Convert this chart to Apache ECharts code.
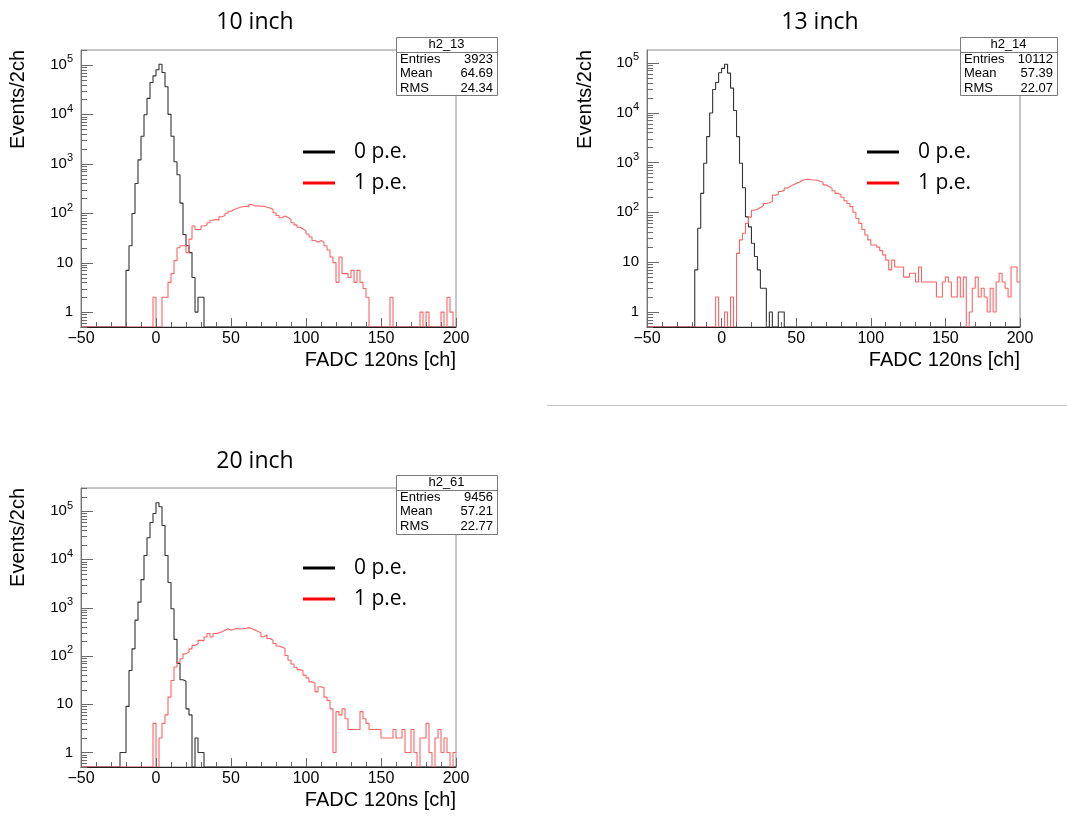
<!DOCTYPE html>
<html><head><meta charset="utf-8">
<script src="https://cdn.jsdelivr.net/npm/echarts@6/dist/echarts.min.js"></script>
<style>html,body{margin:0;padding:0;background:#fff}#c{width:1067px;height:817px}</style>
</head><body><div id="c"></div>
<script>
// ---- data (bins of 2 ch, left edges from -50 to 198) ----
const binStart = -50, binWidth = 2;
const panelTitles = ['10 inch', '13 inch', '20 inch'];
const legendNames = ['0 p.e.', '1 p.e.'];
const xAxisTitle = 'FADC 120ns [ch]';
const yAxisTitle = 'Events/2ch';
const statsNames = ['h2_13', 'h2_14', 'h2_61'];
const statsEntries = ['3923', '10112', '9456'];
const statsMeans = ['64.69', '57.39', '57.21'];
const statsRms = ['24.34', '22.07', '22.77'];
const yTickValues = [1, 10, 100, 1000, 10000, 100000];
const yTickLabels = ['1', '10', '10^2', '10^3', '10^4', '10^5'];
const yMin = 0.5;
const yMax = [2e5, 1.8e5, 3e5];

const black10 = [
  0,0,0,0,0, 0,0,0,0,0, 0,0,0,0,0, 7,22,99,400,1200, 3600,9800,21000,44000,60000,
  80000,103000,70000,36000,10000, 3600,1100,600,160,37, 22,16,5,1,2, 2,0,0,0,0, 0,0,0,0,0,
  0,0,0,0,0, 0,0,0,0,0, 0,0,0,0,0, 0,0,0,0,0, 0,0,0,0,0,
  0,0,0,0,0, 0,0,0,0,0, 0,0,0,0,0, 0,0,0,0,0, 0,0,0,0,0,
  0,0,0,0,0, 0,0,0,0,0, 0,0,0,0,0, 0,0,0,0,0, 0,0,0,0,0
];
const red10 = [
  0,0,0,0,0, 0,0,0,0,0, 0,0,0,0,0, 0,0,0,0,0, 0,0,0,0,2,
  0,0,2,2,4, 6,11,20,22,22, 16,30,55,47,47, 55,58,64,72,75, 72,85,90,100,110,
  119,125,132,135,138, 136,150,140,142,138, 140,132,128,120,102, 90,81,88,82,75, 64,58,52,48,44,
  38,33,28,26,28, 26,22,18,13,10, 4,13,6,6,5, 7,4,7,4,3, 2,0,0,0,0,
  0,0,0,2,0, 0,0,0,0,0, 0,0,0,1,0, 1,0,0,0,0, 1,0,2,1,0
];
const black13 = [
  0,0,0,0,0, 0,0,0,0,0, 0,0,0,0,0, 0,7,48,240,960, 3300,9800,29000,40000,63000,
  77000,93000,62000,31000,11000, 3300,960,310,81,51, 24,13,7,3,3, 0,1,0,0,1, 1,0,0,0,0,
  0,0,0,0,0, 0,0,0,0,0, 0,0,0,0,0, 0,0,0,0,0, 0,0,0,0,0,
  0,0,0,0,0, 0,0,0,0,0, 0,0,0,0,0, 0,0,0,0,0, 0,0,0,0,0,
  0,0,0,0,0, 0,0,0,0,0, 0,0,0,0,0, 0,0,0,0,0, 0,0,0,0,0
];
const red13 = [
  0,0,0,0,0, 0,0,0,0,0, 0,0,0,0,0, 0,0,0,0,0, 0,0,0,2,0,
  0,1,0,2,0, 15,28,38,60,80, 110,115,125,135,150, 155,165,220,230,262, 275,305,330,355,380,
  400,435,455,460,450, 445,440,420,400,355, 330,305,270,240,225, 200,170,150,130,100, 75,60,45,35,28,
  22,22,20,17,14, 11,7,11,8,8, 8,5,5,6,6, 4,8,4,4,4, 4,4,2,2,4,
  5,4,2,2,5, 2,5,0,1,3, 5,2,3,2,1, 3,1,4,6,4, 3,2,8,8,4
];
const black20 = [
  0,0,0,0,0, 0,0,0,0,0, 0,0,0,1,1, 9,50,140,550,1300, 3800,12000,28000,58000,89000,
  148000,123000,50000,12000,3300, 950,220,70,32,30, 8,6,0,2,1, 1,0,0,0,0, 0,0,0,0,0,
  0,0,0,0,0, 0,0,0,0,0, 0,0,0,0,0, 0,0,0,0,0, 0,0,0,0,0,
  0,0,0,0,0, 0,0,0,0,0, 0,0,0,0,0, 0,0,0,0,0, 0,0,0,0,0,
  0,0,0,0,0, 0,0,0,0,0, 0,0,0,0,0, 0,0,0,0,0, 0,0,0,0,0
];
const red20 = [
  0,0,0,0,0, 0,0,0,0,0, 0,0,0,0,0, 0,0,0,0,0, 0,0,0,0,4,
  0,2,4,6,14, 31,59,74,87,110, 120,140,165,178,210, 205,246,290,246,290, 300,315,340,366,340,
  355,370,360,366,375, 385,365,345,320,300, 250,275,230,210,180, 160,152,142,102,81, 68,58,52,50,40,
  35,29,27,18,23, 22,14,12,8,1, 7,6,8,5,3, 3,3,3,7,5, 4,3,3,3,3,
  2,2,2,2,3, 2,2,3,1,1, 3,1,0,2,2, 4,1,0,2,3, 1,2,1,0,1
];

// ---- layout ----
const FONT_ROOT = '"Liberation Sans", Arial, sans-serif';
const FONT_OFF = '"Open Sans", "Noto Sans", sans-serif';
const panels = [
  {grid:{left:81, top:50, width:375, height:277}, title:[255,22], stats:[396,37,101,58], legend:[303,152,354], yName:[18,50], xName:[456,360]},
  {grid:{left:647, top:50, width:373, height:277}, title:[820,22], stats:[960,37,97,58], legend:[867,152,918], yName:[585,50], xName:[1020,360]},
  {grid:{left:81, top:488, width:375, height:279}, title:[255,461], stats:[396,475,101,59], legend:[303,568,354], yName:[18,488], xName:[456,800]}
];
const blacks = [black10, black13, black20];
const reds = [red10, red13, red20];

function histData(vals) {
  const pts = vals.map((v, i) => [binStart + i * binWidth, v > 0 ? v : yMin]);
  const last = vals[vals.length - 1];
  pts.push([binStart + vals.length * binWidth, last > 0 ? last : yMin]);
  return pts;
}
function yTickMarks(maxV) {
  const out = [];
  for (let e = -1; e <= 5; e++) for (let k = 1; k <= 9; k++) {
    const v = k * Math.pow(10, e);
    if (v >= yMin * 0.999 && v <= maxV) out.push([binStart, v]);
  }
  return out;
}

const chart = echarts.init(document.getElementById('c'), null, {renderer: 'canvas'});
const series = [], graphic = [];
panels.forEach((p, i) => {
  series.push({
    type: 'line', name: legendNames[0], xAxisIndex: i, yAxisIndex: i, step: 'end', symbol: 'none',
    data: histData(blacks[i]), lineStyle: {color: '#333333', width: 1.1}, itemStyle: {color: '#333333'}, z: 2
  });
  series.push({
    type: 'line', name: legendNames[1], xAxisIndex: i, yAxisIndex: i, step: 'end', symbol: 'none',
    data: histData(reds[i]), lineStyle: {color: '#ff6464', width: 1.1}, itemStyle: {color: '#ff6464'}, z: 3
  });
  series.push({
    type: 'custom', xAxisIndex: i, yAxisIndex: i, data: yTickMarks(yMax[i]), clip: false, z: 6,
    encode: {x: 0, y: 1},
    renderItem: function (params, api) {
      const v = api.value(1);
      const pt = api.coord([api.value(0), v]);
      const e = Math.log10(v);
      const major = Math.abs(e - Math.round(e)) < 1e-6;
      const len = major ? 12 : 6;
      const y = Math.round(pt[1]) + 0.5;
      return {type: 'line', shape: {x1: pt[0], y1: y, x2: pt[0] + len, y2: y}, style: {stroke: '#6a6a6a', lineWidth: 1}};
    }
  });

  // titles & axis titles
  graphic.push({type: 'text', x: p.title[0], y: p.title[1], z: 100,
    style: {text: panelTitles[i], font: '23px ' + FONT_OFF, fill: '#000', textAlign: 'center', textVerticalAlign: 'middle'}});
  graphic.push({type: 'text', x: p.yName[0], y: p.yName[1], rotation: Math.PI / 2, z: 100,
    style: {text: yAxisTitle, font: '20px ' + FONT_ROOT, fill: '#000', textAlign: 'right', textVerticalAlign: 'middle'}});
  graphic.push({type: 'text', x: p.xName[0], y: p.xName[1], z: 100,
    style: {text: xAxisTitle, font: '20px ' + FONT_ROOT, fill: '#000', textAlign: 'right', textVerticalAlign: 'middle'}});
  // legend
  const L = p.legend;
  [['#000', 0], ['#ff0000', 31]].forEach((c, k) => {
    graphic.push({type: 'line', z: 100, shape: {x1: L[0], y1: L[1] + c[1], x2: L[0] + 32, y2: L[1] + c[1]}, style: {stroke: c[0], lineWidth: 3}});
    graphic.push({type: 'text', x: L[2], y: L[1] + c[1], z: 100,
      style: {text: legendNames[k], font: '21px ' + FONT_OFF, fill: '#000', textAlign: 'left', textVerticalAlign: 'middle'}});
  });
  // stats box
  const S = p.stats;
  graphic.push({type: 'rect', z: 100, shape: {x: S[0] + 0.5, y: S[1] + 0.5, width: S[2], height: S[3]}, style: {fill: '#fff', stroke: '#7a7a7a', lineWidth: 1}});
  graphic.push({type: 'line', z: 101, shape: {x1: S[0], y1: S[1] + 15.5, x2: S[0] + S[2], y2: S[1] + 15.5}, style: {stroke: '#7a7a7a', lineWidth: 1}});
  graphic.push({type: 'text', x: S[0] + S[2] / 2, y: S[1] + 7, z: 101,
    style: {text: statsNames[i], font: '13px ' + FONT_ROOT, fill: '#000', textAlign: 'center', textVerticalAlign: 'middle'}});
  const rows = [['Entries', statsEntries[i]], ['Mean', statsMeans[i]], ['RMS', statsRms[i]]];
  rows.forEach((r, k) => {
    const yy = S[1] + 22 + k * 14.5;
    graphic.push({type: 'text', x: S[0] + 4, y: yy, z: 101,
      style: {text: r[0], font: '13px ' + FONT_ROOT, fill: '#000', textAlign: 'left', textVerticalAlign: 'middle'}});
    graphic.push({type: 'text', x: S[0] + S[2] - 4, y: yy, z: 101,
      style: {text: r[1], font: '13px ' + FONT_ROOT, fill: '#000', textAlign: 'right', textVerticalAlign: 'middle'}});
  });
});
graphic.push({type: 'line', z: 100, shape: {x1: 547, y1: 405.5, x2: 1067, y2: 405.5}, style: {stroke: '#c6c6c6', lineWidth: 1}});

const option = {
  animation: false,
  backgroundColor: '#fff',
  grid: panels.map(p => Object.assign({show: true, borderColor: '#8c8c8c', borderWidth: 1, backgroundColor: 'rgba(0,0,0,0)', containLabel: false, outerBoundsMode: 'none'}, p.grid)),
  xAxis: panels.map((p, i) => ({
    type: 'value', gridIndex: i, min: -50, max: 200, interval: 50, z: 5,
    axisLine: {show: true, onZero: false, lineStyle: {color: '#222', width: 1}},
    axisTick: {show: true, inside: true, length: 9, lineStyle: {color: '#666'}},
    minorTick: {show: true, splitNumber: 5, length: 5, lineStyle: {color: '#666'}},
    splitLine: {show: false}, minorSplitLine: {show: false},
    axisLabel: {margin: 4, color: '#000', fontSize: 16, fontFamily: FONT_ROOT,
      formatter: v => (v < 0 ? '\u2212' + Math.abs(v) : String(v))}
  })),
  yAxis: panels.map((p, i) => ({
    type: 'log', logBase: 10, gridIndex: i, min: yMin, max: yMax[i], z: 5,
    axisLine: {show: true, onZero: false, lineStyle: {color: '#777', width: 1}},
    axisTick: {show: false}, minorTick: {show: false},
    splitLine: {show: false}, minorSplitLine: {show: false},
    axisLabel: {margin: 8, showMinLabel: false, showMaxLabel: false,
      formatter: function (v) {
        const k = yTickValues.findIndex(t => Math.abs(t - v) < 1e-6 * t);
        if (k < 0) return '';
        const s = yTickLabels[k];
        const c = s.indexOf('^');
        return c < 0 ? '{b|' + s + '}' : '{b|' + s.slice(0, c) + '}{s|' + s.slice(c + 1) + '}';
      },
      rich: {
        b: {fontSize: 15, fontFamily: FONT_ROOT, color: '#000'},
        s: {fontSize: 11, fontFamily: FONT_ROOT, color: '#000', padding: [0, 0, 11, 0]}
      }
    }
  })),
  series: series,
  graphic: graphic
};
chart.setOption(option);
</script></body></html>
